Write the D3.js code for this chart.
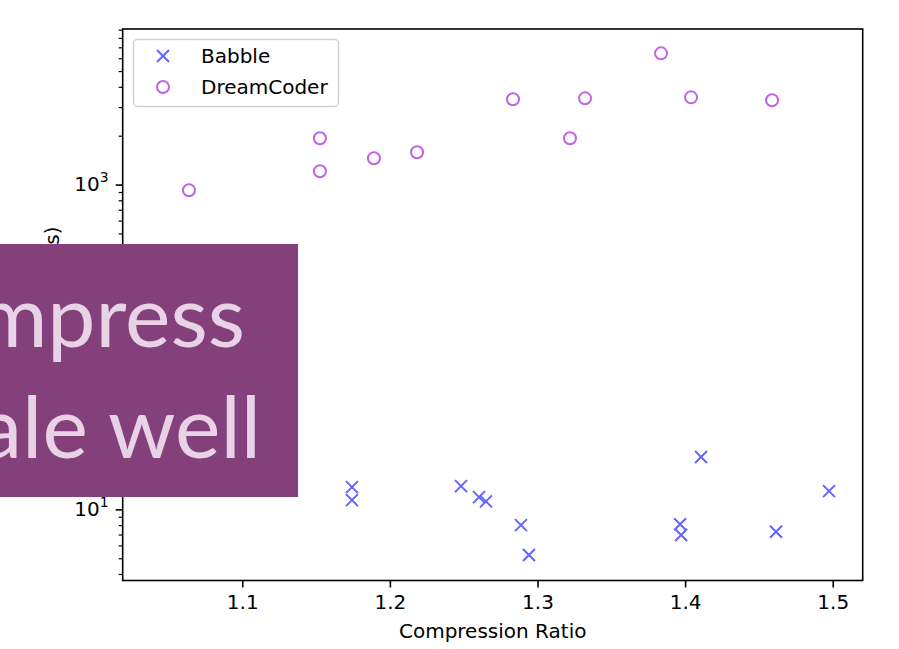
<!DOCTYPE html>
<html>
<head>
<meta charset="utf-8">
<script src="https://cdn.jsdelivr.net/npm/d3@7"></script>
<style>
  body { margin: 0; background: #fff; }
  svg { display: block; }
</style>
</head>
<body>
<svg id="chart" width="899" height="649"></svg>
<script>
// Compression ratio (x) and search time in seconds (y) per benchmark
const babbleRatio = [1.1743, 1.1743, 1.2482, 1.2604, 1.2651, 1.2888, 1.2942, 1.3966, 1.3973, 1.4108, 1.4616, 1.4975];
const babbleTime  = [13.7, 11.4, 13.9, 11.9, 11.2, 8.0, 5.24, 8.1, 6.96, 21.0, 7.28, 12.96];

const dreamRatio = [1.0639, 1.1526, 1.1526, 1.1892, 1.2184, 1.2834, 1.3220, 1.3322, 1.3837, 1.4040, 1.4589];
const dreamTime  = [923, 1928, 1207, 1452, 1580, 3350, 1928, 3397, 6427, 3444, 3304];

const seriesNames = ["Babble", "DreamCoder"];
const xTicks = [1.1, 1.2, 1.3, 1.4, 1.5];
const yMajorExps = [1, 2, 3];
const yLabelledExps = [1, 3];   // the 10^2 label sits under the caption box
const xLimits = [1.019, 1.5203];
const yLimits = [Math.pow(10, 0.562), Math.pow(10, 3.958)];

const xLabel = "Compression Ratio";
const yLabel = "Search Time (s)";
const overlayLines = ["compress", "scale well"];

const svg = d3.select("#chart");
const plot = { left: 122.7, right: 862.7, top: 29, bottom: 580.5 };

const x = d3.scaleLinear().domain(xLimits).range([plot.left, plot.right]);
const y = d3.scaleLog().domain(yLimits).range([plot.bottom, plot.top]);

const font = "'DejaVu Sans', sans-serif";
const babbleColor = "rgb(100,100,255)";
const dreamColor = "rgb(190,100,230)";

// x axis
const xAxis = d3.axisBottom(x)
  .tickValues(xTicks)
  .tickFormat(d3.format(".1f"))
  .tickSize(7)
  .tickPadding(7);
const gx = svg.append("g")
  .attr("transform", `translate(0,${plot.bottom})`)
  .call(xAxis);
gx.select(".domain").remove();
gx.selectAll(".tick line").attr("stroke", "#000").attr("stroke-width", 1.6);
gx.selectAll(".tick text")
  .attr("font-family", font).attr("font-size", 20).attr("fill", "#000");

// y axis: minor ticks at 2..9 of each decade
const minorVals = [];
for (let e = 0; e <= 3; e++) {
  for (let m = 2; m <= 9; m++) {
    const v = m * Math.pow(10, e);
    if (v >= yLimits[0] && v <= yLimits[1]) minorVals.push(v);
  }
}
const gyMinor = svg.append("g")
  .attr("transform", `translate(${plot.left},0)`)
  .call(d3.axisLeft(y).tickValues(minorVals).tickFormat("").tickSize(4));
gyMinor.select(".domain").remove();
gyMinor.selectAll(".tick line").attr("stroke", "#000").attr("stroke-width", 1.2);

const gy = svg.append("g")
  .attr("transform", `translate(${plot.left},0)`)
  .call(d3.axisLeft(y)
    .tickValues(yMajorExps.map(e => Math.pow(10, e)))
    .tickFormat("")
    .tickSize(7)
    .tickPadding(7));
gy.select(".domain").remove();
gy.selectAll(".tick line").attr("stroke", "#000").attr("stroke-width", 1.6);
gy.selectAll(".tick text")
  .attr("font-family", font).attr("font-size", 20).attr("fill", "#000")
  .attr("dy", "0.32em")
  .each(function (d) {
    const t = d3.select(this);
    const exp = Math.round(Math.log10(d));
    t.text(null);
    if (!yLabelledExps.includes(exp)) { t.remove(); return; }
    t.append("tspan").text("10");
    t.append("tspan").attr("font-size", 14).attr("dy", "-0.65em").text(String(exp));
  });

// frame
svg.append("rect")
  .attr("x", plot.left).attr("y", plot.top)
  .attr("width", plot.right - plot.left).attr("height", plot.bottom - plot.top)
  .attr("fill", "none").attr("stroke", "#000").attr("stroke-width", 1.6);

// axis labels
svg.append("text")
  .attr("x", (plot.left + plot.right) / 2).attr("y", 638)
  .attr("text-anchor", "middle")
  .attr("font-family", font).attr("font-size", 20).attr("fill", "#000")
  .text(xLabel);
svg.append("text")
  .attr("transform", `translate(59,${(plot.top + plot.bottom) / 2}) rotate(-90)`)
  .attr("text-anchor", "middle")
  .attr("font-family", font).attr("font-size", 20).attr("fill", "#000")
  .text(yLabel);

// markers
const xMark = (g, half) => g.append("path")
  .attr("d", `M${-half},${-half}L${half},${half}M${-half},${half}L${half},${-half}`)
  .attr("fill", "none").attr("stroke", babbleColor).attr("stroke-width", 2);
const oMark = (g, r) => g.append("circle")
  .attr("r", r).attr("fill", "none").attr("stroke", dreamColor).attr("stroke-width", 2);

const babble = babbleRatio.map((r, i) => ({ r, t: babbleTime[i] }));
const dream = dreamRatio.map((r, i) => ({ r, t: dreamTime[i] }));

const marks = svg.append("g");
marks.selectAll("g.babble").data(babble).join("g")
  .attr("class", "babble")
  .attr("transform", d => `translate(${x(d.r)},${y(d.t)})`)
  .each(function () { xMark(d3.select(this), 6); });
marks.selectAll("g.dream").data(dream).join("g")
  .attr("class", "dream")
  .attr("transform", d => `translate(${x(d.r)},${y(d.t)})`)
  .each(function () { oMark(d3.select(this), 6); });

// legend
const legend = svg.append("g");
legend.append("rect")
  .attr("x", 133.5).attr("y", 39.5).attr("width", 205).attr("height", 67).attr("rx", 4)
  .attr("fill", "#fff").attr("fill-opacity", 0.8)
  .attr("stroke", "#d0d0d0").attr("stroke-width", 1.4);
seriesNames.forEach((name, i) => {
  const cy = 56 + i * 31;
  const g = legend.append("g").attr("transform", `translate(163,${cy})`);
  if (i === 0) xMark(g, 6); else oMark(g, 6);
  legend.append("text")
    .attr("x", 201).attr("y", cy + 7)
    .attr("font-family", font).attr("font-size", 20).attr("fill", "#000")
    .text(name);
});

// overlay caption box
const overlay = svg.append("g");
overlay.append("rect")
  .attr("x", 0).attr("y", 244).attr("width", 298).attr("height", 253)
  .attr("fill", "#84407b");
const overlayRight = [245, 261];
const overlayBase = [347, 458];
overlayLines.forEach((line, i) => {
  overlay.append("text")
    .attr("x", overlayRight[i]).attr("y", overlayBase[i])
    .attr("text-anchor", "end")
    .attr("font-family", "Lato, 'Open Sans', sans-serif")
    .attr("font-size", 86)
    .attr("fill", "#e8d2e6")
    .text(line);
});
</script>
</body>
</html>
